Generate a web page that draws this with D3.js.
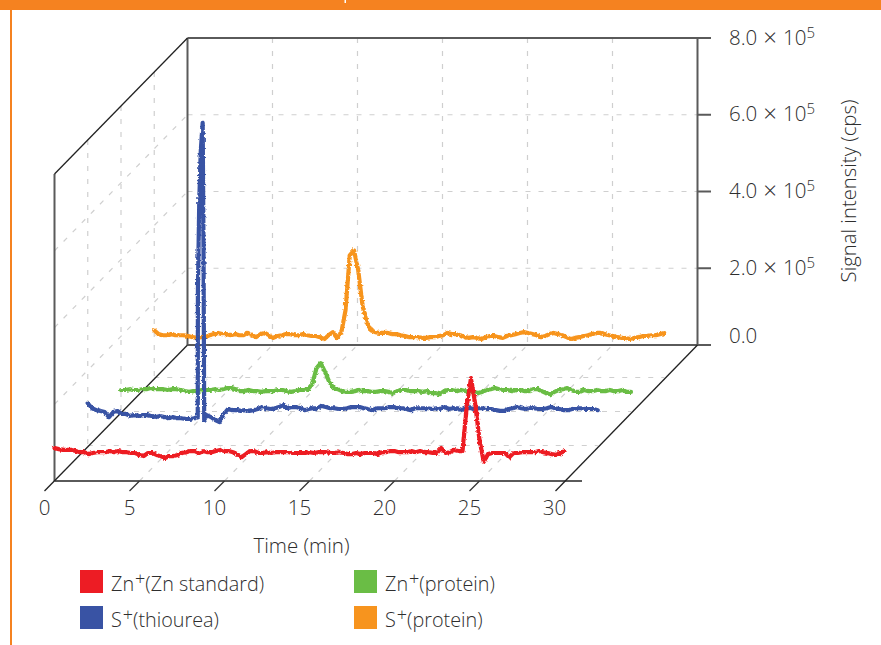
<!DOCTYPE html>
<html><head><meta charset="utf-8">
<script src="https://cdn.jsdelivr.net/npm/d3@7"></script>
<style>
html,body{margin:0;padding:0;background:#fff}
svg{display:block}
text{font-family:"Open Sans",sans-serif;fill:#2e2e2e;font-weight:300}
</style></head><body>
<svg id="c" width="881" height="645"></svg>
<script>
// Values in units of 1e5 cps, sampled every 0.25 min from 0 to 30 min
const timeStep = 0.25;
const xTicks = [0,5,10,15,20,25,30];
const yTicks = [0,2,4,6,8];
const yTickLabels = ["0.0","2.0","4.0","6.0","8.0"];
const zincStandard = [
.86,.83,.81,.81,.81,.78,.75,.75,.70,.73,
.75,.75,.75,.78,.75,.78,.75,.75,.73,.73,
.68,.65,.73,.73,.68,.65,.60,.65,.65,.68,
.73,.75,.78,.78,.73,.78,.75,.75,.78,.81,
.78,.78,.75,.70,.62,.70,.78,.78,.73,.73,
.75,.73,.75,.75,.75,.75,.73,.73,.73,.73,
.75,.73,.75,.75,.75,.73,.73,.75,.73,.70,
.70,.73,.70,.73,.73,.73,.70,.75,.75,.78,
.78,.75,.75,.75,.78,.75,.78,.75,.75,.73,
.73,.86,.73,.75,.81,.78,.78,1.95,2.68,2.00,
1.07,.50,.70,.73,.73,.73,.73,.62,.73,.73,
.75,.75,.75,.75,.78,.75,.73,.70,.68,.73,.78];
const thioureaBefore = [
1.14,1.01,.96,.94,.91,.78,.91,.94,.86,.86,
.81,.83,.81,.83,.83,.81,.78,.81,.78,.75,
.78,.75,.75,.73,.73,.75];
const thioureaSpikeTime = [6.47,6.48,6.56,6.65,6.76,6.81,6.85];
const thioureaSpikeValues = [.78,4.08,6.42,7.72,8.45,5.12,.70];
const thioureaAfter = [
.83,.78,.70,.65,.86,.99,
.96,.96,.94,.96,.94,.96,.99,1.04,1.01,.99,
1.01,1.04,1.09,1.01,1.04,1.04,1.01,.96,.99,1.01,
1.01,1.07,1.04,1.01,1.01,.99,.99,1.01,1.04,1.04,
1.04,1.01,.99,.96,1.01,1.01,1.01,1.04,1.04,1.01,
1.01,.99,.96,1.01,1.01,1.01,1.01,.99,1.01,.99,
1.04,.99,1.01,1.01,.96,1.01,1.01,.99,1.01,1.01,
.99,.99,.96,.94,.94,.99,1.01,1.04,1.01,.99,
1.01,1.01,.99,.99,1.01,1.04,1.01,.99,.96,.96,
.99,1.01,1.01,.99,.99,.99,.96];
const zincProtein = [
.60,.60,.62,.60,.60,.62,.62,.65,.62,.62,
.62,.60,.62,.62,.60,.57,.55,.57,.57,.60,
.60,.60,.62,.60,.62,.65,.65,.62,.57,.57,
.60,.57,.57,.55,.57,.57,.57,.60,.60,.57,
.55,.57,.60,.60,.62,.75,1.17,1.30,1.07,.81,
.65,.62,.57,.55,.55,.57,.60,.57,.57,.55,
.55,.57,.57,.55,.52,.57,.60,.60,.57,.57,
.57,.55,.57,.52,.52,.49,.57,.60,.60,.57,
.60,.57,.55,.55,.52,.55,.60,.62,.65,.62,
.60,.60,.57,.60,.60,.57,.57,.62,.62,.57,
.52,.49,.55,.60,.62,.65,.60,.55,.55,.60,
.57,.57,.60,.57,.57,.60,.57,.57,.60,.55,.55];
const sulfurProtein = [
1.27,1.17,1.14,1.14,1.17,1.14,1.14,1.14,1.12,1.09,
1.07,1.09,1.09,1.14,1.17,1.20,1.17,1.17,1.14,1.17,
1.14,1.14,1.20,1.14,1.09,1.17,1.20,1.14,1.07,1.12,
1.14,1.17,1.17,1.14,1.14,1.17,1.14,1.12,1.12,1.09,
1.04,1.14,1.22,1.07,1.20,1.79,3.22,3.35,2.83,1.92,
1.48,1.27,1.22,1.20,1.20,1.20,1.17,1.17,1.14,1.12,
1.09,1.09,1.09,1.07,1.07,1.09,1.09,1.12,1.14,1.20,
1.17,1.17,1.14,1.09,1.07,1.09,1.07,1.04,1.09,1.12,
1.12,1.09,1.07,1.12,1.14,1.17,1.20,1.22,1.20,1.17,
1.14,1.09,1.12,1.17,1.20,1.17,1.14,1.09,1.04,1.07,
1.09,1.12,1.14,1.17,1.20,1.20,1.17,1.14,1.12,1.09,
1.07,1.07,1.04,1.07,1.09,1.12,1.12,1.14,1.14,1.17,1.20];
const seriesNames = ["Zn","S","Zn","S"];
const seriesNotes = ["(Zn standard)","(thiourea)","(protein)","(protein)"];
const seriesColors = ["#ed1c24","#3953a4","#6abd45","#f7941e"];
const legendColors = ["#ed1c24","#3953a4","#6abd45","#f7941e"];

const svg = d3.select("#c");
const defs = svg.append("defs");
const filt = defs.append("filter").attr("id","rough").attr("filterUnits","userSpaceOnUse")
  .attr("x",0).attr("y",0).attr("width",881).attr("height",645);
filt.append("feTurbulence").attr("type","fractalNoise").attr("baseFrequency",0.4).attr("numOctaves",2).attr("seed",4).attr("result","n");
filt.append("feDisplacementMap").attr("in","SourceGraphic").attr("in2","n").attr("scale",3.2).attr("xChannelSelector","R").attr("yChannelSelector","G");

const grid = d3.range(0, 30 + 1e-6, timeStep);
const x = d3.scaleLinear().domain([0,30]).range([54.5,564.5]);
const y = d3.scaleLinear().domain([0,8]).range([0,307]);
const dX = d3.scaleLinear().domain([0,4]).range([0,133]);
const dY = d3.scaleLinear().domain([0,4]).range([0,136]);
const px = (t,k) => x(t) + dX(k);
const py = (v,k) => 481 - dY(k) - y(v);
const line = (a,b,c,o={}) => svg.append("line").attr("x1",a[0]).attr("y1",a[1]).attr("x2",b[0]).attr("y2",b[1])
  .attr("stroke",c).attr("stroke-width",o.w||1).attr("stroke-dasharray",o.d||null);

// page frame
svg.append("rect").attr("x",0).attr("y",0).attr("width",881).attr("height",10).attr("fill","#f58220");
svg.append("rect").attr("x",10).attr("y",10).attr("width",2).attr("height",635).attr("fill","#f58220");
svg.append("rect").attr("x",344.5).attr("y",0).attr("width",1.5).attr("height",3).attr("fill","#fff");

// dashed grid
const dash = {d:"5 8", c:"#cfcfcf", w:1.2};
const g = (a,b)=>line(a,b,dash.c,{d:dash.d,w:dash.w});
xTicks.slice(1,-1).forEach(t=>{
  g([px(t,4),py(8,4)],[px(t,4),py(0,4)]);
  g([px(t,0),py(0,0)],[px(t,4),py(0,4)]);
});
yTicks.slice(1,-1).forEach(v=>{
  g([px(0,4),py(v,4)],[px(30,4),py(v,4)]);
  g([px(0,0),py(v,0)],[px(0,4),py(v,4)]);
});
[1,2,3].forEach(k=>{
  g([px(0,k),py(8,k)],[px(0,k),py(0,k)]);
  g([px(0,k),py(0,k)-1.5],[px(30,k),py(0,k)-1.5]);
});

// frame
const frame="#5a5a5a";
line([px(0,4),py(8,4)],[711,py(8,4)],frame,{w:2});
line([px(0,4),py(0,4)],[711,py(0,4)],frame,{w:2});
line([px(0,4),py(8,4)],[px(0,4),py(0,4)],frame,{w:2});
line([px(30,4),py(8,4)],[px(30,4),py(0,4)],frame,{w:2});
line([px(0,0),py(8,0)],[px(0,0),py(0,0)],frame,{w:2});
line([px(0,0),py(0,0)],[582,py(0,0)],frame,{w:2});
line([px(0,0),py(8,0)],[px(0,4),py(8,4)],"#222",{w:1.3});
line([px(0,0)-10,py(0,0)+10],[px(0,4),py(0,4)],"#222",{w:1.3});
line([px(30,0)-9,py(0,0)+10],[px(30,4),py(0,4)],"#222",{w:1.3});
xTicks.slice(1,-1).forEach(t=>line([px(t,0),py(0,0)],[px(t,0)-10,py(0,0)+10],"#333",{w:1.3}));
yTicks.slice(1,-1).forEach(v=>line([px(30,4),py(v,4)],[711,py(v,4)],frame,{w:2}));

// series
const path = d3.line().x(d=>px(d[0],d[2])).y(d=>py(d[1],d[2])).curve(d3.curveLinear);
const thioureaT = grid.slice(0,thioureaBefore.length).concat(thioureaSpikeTime, grid.slice(28));
const thioureaV = thioureaBefore.concat(thioureaSpikeValues, thioureaAfter);
const draw = [
  {k:3, t:grid, v:sulfurProtein, c:seriesColors[3], w:4.2},
  {k:2, t:grid, v:zincProtein, c:seriesColors[2], w:4.2},
  {k:1, t:thioureaT, v:thioureaV, c:seriesColors[1], w:4.2},
  {k:0, t:grid, v:zincStandard, c:seriesColors[0], w:4.2}
];
draw.forEach(s=>{
  const pts = s.v.map((v,i)=>[s.t[i],v,s.k]);
  svg.append("path").attr("d",path(pts)).attr("fill","none").attr("stroke",s.c).attr("filter","url(#rough)")
    .attr("stroke-width",s.w).attr("stroke-linejoin","round").attr("stroke-linecap","round");
});

// x labels
xTicks.forEach(t=>svg.append("text").attr("x",px(t,0)-10).attr("y",515).attr("text-anchor","middle")
  .attr("font-size",20.5).text(t));
svg.append("text").attr("x",301.5).attr("y",553).attr("text-anchor","middle").attr("font-size",20.5).text("Time (min)");

// y labels
yTicks.forEach((v,i)=>{
  const tx = svg.append("text").attr("x",729).attr("y",py(v,4)+ (i===0?-2:6.5)).attr("font-size",20.5);
  tx.append("tspan").text(yTickLabels[i]);
  if(i>0){
    tx.append("tspan").attr("dx",6).attr("font-size",24).attr("dy",1).text("×");
    tx.append("tspan").attr("dx",6).attr("dy",-1).text("10");
    tx.append("tspan").attr("dy",-7).attr("font-size",15).text("5");
  }
});
svg.append("text").attr("transform","translate(856,191) rotate(-90)").attr("text-anchor","middle")
  .attr("font-size",20.3).text("Signal intensity (cps)");

// legend
const lx=[80,80,354,354], ly=[570,606,570,606];
seriesNames.forEach((n,i)=>{
  svg.append("rect").attr("x",lx[i]).attr("y",ly[i]).attr("width",23).attr("height",23).attr("fill",legendColors[i]);
  const tx = svg.append("text").attr("x",lx[i]+31).attr("y",ly[i]+21).attr("font-size",19.8);
  tx.append("tspan").text(n);
  tx.append("tspan").attr("dx",1).attr("dy",-6).attr("font-size",18).text("+");
  tx.append("tspan").attr("dy",6).text(seriesNotes[i]);
});
</script>
</body></html>
